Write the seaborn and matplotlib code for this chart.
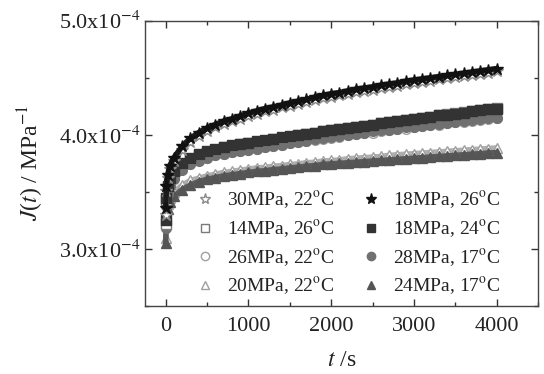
import matplotlib
matplotlib.use("Agg")
import matplotlib.pyplot as plt
from matplotlib.lines import Line2D
from matplotlib.ticker import MultipleLocator, FuncFormatter
import seaborn as sns
import pandas as pd

# time points (s)
t = [0, 10, 25, 50, 100, 200, 300, 400, 500, 600, 700, 800, 900, 1000,
     1100, 1200, 1300, 1400, 1500, 1600, 1700, 1800, 1900, 2000,
     2100, 2200, 2300, 2400, 2500, 2600, 2700, 2800, 2900, 3000,
     3100, 3200, 3300, 3400, 3500, 3600, 3700, 3800, 3900, 4000]

# creep compliance J(t), in units of 1e-4 MPa^-1
j_30_22 = [3.30, 3.51, 3.62, 3.70, 3.77, 3.87, 3.94, 3.99, 4.03, 4.065, 4.095, 4.12, 4.14, 4.165,
           4.185, 4.205, 4.22, 4.24, 4.255, 4.27, 4.29, 4.305, 4.32, 4.335,
           4.345, 4.36, 4.375, 4.385, 4.395, 4.41, 4.42, 4.43, 4.445, 4.455,
           4.465, 4.475, 4.485, 4.495, 4.505, 4.515, 4.525, 4.535, 4.545, 4.555]
j_14_26 = [3.22, 3.43, 3.54, 3.61, 3.67, 3.74, 3.79, 3.82, 3.85, 3.87, 3.89, 3.905, 3.92, 3.93,
           3.94, 3.95, 3.965, 3.975, 3.985, 3.995, 4.005, 4.02, 4.03, 4.04,
           4.05, 4.06, 4.07, 4.08, 4.09, 4.10, 4.11, 4.12, 4.13, 4.14,
           4.15, 4.16, 4.17, 4.18, 4.19, 4.20, 4.21, 4.22, 4.225, 4.235]
j_26_22 = [3.20, 3.40, 3.50, 3.57, 3.63, 3.70, 3.745, 3.775, 3.80, 3.82, 3.835, 3.85, 3.86, 3.87,
           3.88, 3.89, 3.90, 3.91, 3.925, 3.935, 3.945, 3.955, 3.965, 3.975,
           3.985, 3.995, 4.005, 4.015, 4.02, 4.03, 4.04, 4.05, 4.055, 4.065,
           4.075, 4.085, 4.09, 4.10, 4.11, 4.115, 4.125, 4.13, 4.14, 4.145]
j_20_22 = [3.10, 3.30, 3.39, 3.45, 3.50, 3.56, 3.60, 3.62, 3.64, 3.655, 3.67, 3.68, 3.69, 3.70,
           3.71, 3.715, 3.725, 3.73, 3.74, 3.745, 3.755, 3.76, 3.77, 3.775,
           3.78, 3.79, 3.795, 3.80, 3.805, 3.81, 3.82, 3.825, 3.83, 3.835,
           3.84, 3.845, 3.85, 3.855, 3.86, 3.865, 3.87, 3.875, 3.88, 3.885]
j_18_26 = [3.36, 3.55, 3.65, 3.73, 3.80, 3.90, 3.97, 4.02, 4.06, 4.09, 4.12, 4.14, 4.165, 4.19,
           4.21, 4.23, 4.245, 4.26, 4.28, 4.295, 4.31, 4.33, 4.345, 4.36,
           4.37, 4.385, 4.40, 4.41, 4.42, 4.435, 4.445, 4.455, 4.47, 4.48,
           4.49, 4.50, 4.51, 4.52, 4.53, 4.54, 4.55, 4.56, 4.57, 4.58]
j_18_24 = [3.25, 3.45, 3.55, 3.62, 3.68, 3.75, 3.80, 3.83, 3.86, 3.88, 3.895, 3.91, 3.92, 3.93,
           3.945, 3.955, 3.965, 3.98, 3.99, 4.00, 4.01, 4.02, 4.03, 4.04,
           4.05, 4.06, 4.07, 4.08, 4.09, 4.10, 4.11, 4.12, 4.13, 4.14,
           4.15, 4.16, 4.17, 4.175, 4.185, 4.195, 4.205, 4.215, 4.225, 4.23]
j_28_17 = [3.18, 3.38, 3.48, 3.55, 3.61, 3.69, 3.74, 3.77, 3.80, 3.82, 3.835, 3.85, 3.86, 3.87,
           3.88, 3.895, 3.905, 3.915, 3.93, 3.94, 3.95, 3.96, 3.97, 3.98,
           3.99, 4.00, 4.01, 4.02, 4.03, 4.04, 4.045, 4.055, 4.065, 4.07,
           4.08, 4.09, 4.095, 4.105, 4.115, 4.12, 4.13, 4.135, 4.145, 4.15]
j_24_17 = [3.05, 3.26, 3.35, 3.41, 3.46, 3.52, 3.56, 3.59, 3.61, 3.625, 3.64, 3.65, 3.66, 3.67,
           3.68, 3.685, 3.695, 3.70, 3.71, 3.715, 3.725, 3.73, 3.74, 3.745,
           3.75, 3.755, 3.76, 3.765, 3.77, 3.775, 3.78, 3.785, 3.79, 3.795,
           3.80, 3.805, 3.81, 3.815, 3.82, 3.825, 3.83, 3.835, 3.84, 3.845]

labels = ["30MPa, 22$^{\\rm o}$C", "14MPa, 26$^{\\rm o}$C", "26MPa, 22$^{\\rm o}$C", "20MPa, 22$^{\\rm o}$C",
          "18MPa, 26$^{\\rm o}$C", "18MPa, 24$^{\\rm o}$C", "28MPa, 17$^{\\rm o}$C", "24MPa, 17$^{\\rm o}$C"]
series = [j_30_22, j_14_26, j_26_22, j_20_22, j_18_26, j_18_24, j_28_17, j_24_17]

# styles: marker, edge colour, face colour, line colour
styles = [
    ("*", "#8a8a8a", "white", "#9a9a9a"),
    ("s", "#7a7a7a", "white", "#888888"),
    ("o", "#a0a0a0", "white", "#a8a8a8"),
    ("^", "#a0a0a0", "white", "#b0b0b0"),
    ("*", "#111111", "#111111", "#1a1a1a"),
    ("s", "#333333", "#333333", "#3a3a3a"),
    ("o", "#707070", "#707070", "#777777"),
    ("^", "#555555", "#555555", "#5a5a5a"),
]

rows = []
for lab, vals in zip(labels, series):
    for tt, v in zip(t, vals):
        rows.append({"t": tt, "J": v * 1e-4, "series": lab})
df = pd.DataFrame(rows)

sns.set_theme(style="ticks")
plt.rcParams["font.family"] = ["Liberation Serif", "DejaVu Serif"]
plt.rcParams["mathtext.fontset"] = "stix"

fig = plt.figure(figsize=(5.44, 3.74), dpi=100)
ax = fig.add_axes([0.2665, 0.1818, 0.7225, 0.7629])

draw_order = [3, 7, 2, 6, 1, 5, 0, 4]
for i in draw_order:
    lab = labels[i]
    m, ec, fc, lc = styles[i]
    sub = df[df["series"] == lab]
    ms = 9 if m == "*" else 7
    sns.lineplot(data=sub, x="t", y="J", ax=ax, color=lc, lw=4.0, legend=False,
                 marker=m, markersize=ms, markeredgecolor=ec, markerfacecolor=fc,
                 markeredgewidth=1.0)

ax.set_xlim(-250, 4500)
ax.set_ylim(2.5e-4, 5.0e-4)
ax.xaxis.set_major_locator(MultipleLocator(1000))
ax.xaxis.set_minor_locator(MultipleLocator(500))
ax.yaxis.set_major_locator(MultipleLocator(1e-4))
ax.yaxis.set_minor_locator(MultipleLocator(0.5e-4))
ax.yaxis.set_major_formatter(FuncFormatter(lambda v, p: "%.1fx10$^{-4}$" % (v * 1e4)))
ax.tick_params(axis="both", which="both", direction="in", top=True, right=True,
               colors="#333333", labelcolor="#222222", labelsize=16, width=1.0)
ax.tick_params(which="major", length=5)
ax.tick_params(which="minor", length=3)
ax.tick_params(axis="x", pad=8)
for s in ax.spines.values():
    s.set_color("#444444")
    s.set_linewidth(1.0)

ax.set_xlabel("$t$ /s", fontsize=17, color="#222222", labelpad=10)
ax.set_ylabel("$J$($t$) / MPa$^{-1}$", fontsize=17, color="#222222", labelpad=9)

handles = []
for i in range(8):
    m, ec, fc, lc = styles[i]
    ms = 8 if m == "*" else 6
    handles.append(Line2D([], [], ls="none", marker=m, markersize=ms,
                          markeredgecolor=ec, markerfacecolor=fc, markeredgewidth=1.0))
leg = ax.legend(handles, labels, ncol=2, loc="lower left", bbox_to_anchor=(0.128, 0.03),
                frameon=False, fontsize=14, handlelength=1.0, handletextpad=0.63,
                columnspacing=1.4, labelspacing=0.36, borderaxespad=0.0, borderpad=0.0)
for txt in leg.get_texts():
    txt.set_color("#222222")

fig.savefig("out.png", dpi=100)
